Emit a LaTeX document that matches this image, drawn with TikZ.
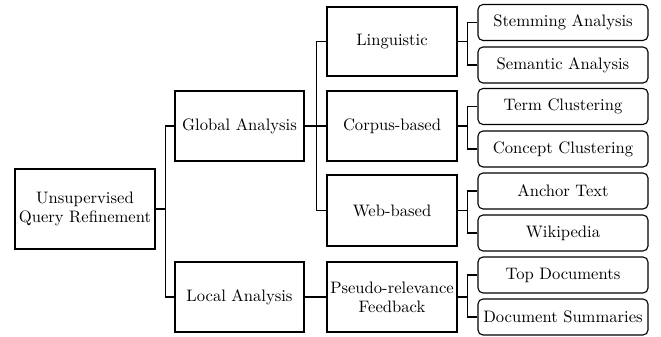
\documentclass[tikz,border=0pt]{standalone}
\usepackage{fontspec}
\newfontfamily\lmten{lmroman10-regular.otf}
\begin{document}
\begin{tikzpicture}[x=1pt,y=-1pt,
  every node/.style={font=\lmten\fontsize{16.6}{19}\selectfont, align=center, inner sep=0pt},
  sqbox/.style={draw, line width=1.1pt},
  leafbox/.style={draw, line width=1.1pt, rounded corners=5pt, minimum width=170pt, minimum height=36pt},
  conn/.style={line width=1.1pt}]
\useasboundingbox (0,0) rectangle (661,337);
\node[sqbox, minimum width=140pt, minimum height=80pt] (root) at (85,209) {Unsupervised\\Query Refinement};
\node[sqbox, minimum width=129pt, minimum height=70pt] (ga) at (239.5,126) {Global Analysis};
\node[sqbox, minimum width=129pt, minimum height=70pt] (la) at (239.5,297) {Local Analysis};
\node[sqbox, minimum width=130pt, minimum height=69pt] (lin) at (392,41.5) {Linguistic};
\node[sqbox, minimum width=130pt, minimum height=70pt] (cor) at (392,126) {Corpus-based};
\node[sqbox, minimum width=130pt, minimum height=71pt] (web) at (392,210.5) {Web-based};
\node[sqbox, minimum width=130pt, minimum height=70pt] (pf) at (392,297) {Pseudo-relevance\\Feedback};
\node[leafbox] (stem) at (563,22.5) {Stemming Analysis};
\node[leafbox] (sem) at (563,65) {Semantic Analysis};
\node[leafbox] (term) at (563,106.5) {Term Clustering};
\node[leafbox] (conc) at (563,149) {Concept Clustering};
\node[leafbox] (anch) at (563,191) {Anchor Text};
\node[leafbox] (wiki) at (563,233) {Wikipedia};
\node[leafbox] (top) at (563,275) {Top Documents};
\node[leafbox] (dsum) at (563,317) {Document Summaries};
\draw[conn] (root.east) -- ++(10,0) |- (ga.west);
\draw[conn] (root.east) -- ++(10,0) |- (la.west);
\draw[conn] (ga.east) -- ++(12,0) |- (lin.west);
\draw[conn] (ga.east) -- (cor.west);
\draw[conn] (ga.east) -- ++(12,0) |- (web.west);
\draw[conn] (la.east) -- (pf.west);
\foreach \m/\a/\b in {lin/stem/sem, cor/term/conc, web/anch/wiki, pf/top/dsum}{
  \draw[conn] (\m.east) -- ++(10,0) |- (\a.west);
  \draw[conn] (\m.east) -- ++(10,0) |- (\b.west);
}
\end{tikzpicture}
\end{document}
